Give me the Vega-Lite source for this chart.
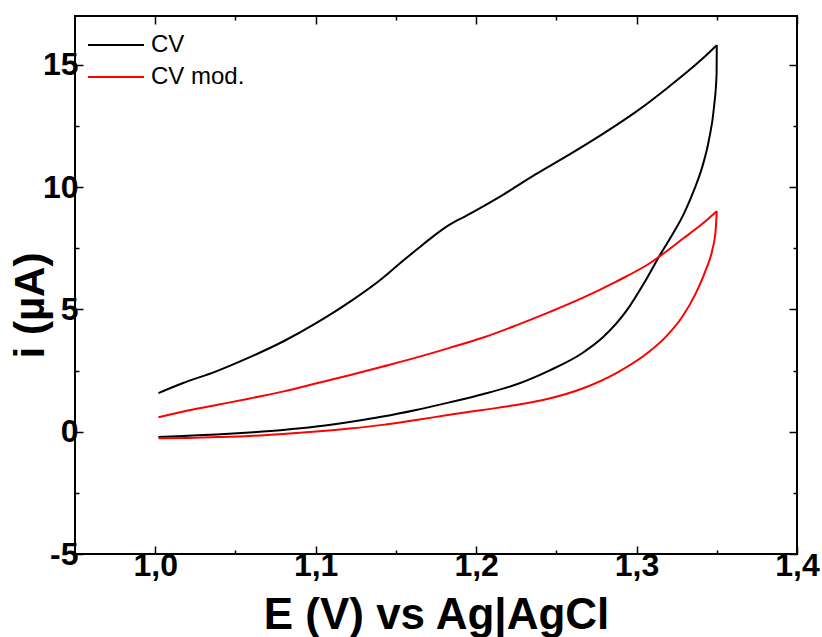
{
  "$schema": "https://vega.github.io/schema/vega-lite/v6.json",
  "width": 722,
  "height": 538,
  "autosize": "none",
  "padding": {"left": 75, "top": 16, "right": 25, "bottom": 83},
  "background": "white",
  "config": {"view": {"stroke": "black", "strokeWidth": 2}, "font": "Liberation Sans"},
  "data": {"values": [
    {"series": "CV", "b": "f", "k": 1, "E": 1.002, "i": 1.58},
    {"series": "CV", "b": "f", "k": 2, "E": 1.017, "i": 1.98},
    {"series": "CV", "b": "f", "k": 3, "E": 1.038, "i": 2.47},
    {"series": "CV", "b": "f", "k": 4, "E": 1.059, "i": 3.05},
    {"series": "CV", "b": "f", "k": 5, "E": 1.080, "i": 3.70},
    {"series": "CV", "b": "f", "k": 6, "E": 1.100, "i": 4.43},
    {"series": "CV", "b": "f", "k": 7, "E": 1.121, "i": 5.30},
    {"series": "CV", "b": "f", "k": 8, "E": 1.142, "i": 6.30},
    {"series": "CV", "b": "f", "k": 9, "E": 1.152, "i": 6.86},
    {"series": "CV", "b": "f", "k": 10, "E": 1.163, "i": 7.45},
    {"series": "CV", "b": "f", "k": 11, "E": 1.173, "i": 7.98},
    {"series": "CV", "b": "f", "k": 12, "E": 1.183, "i": 8.45},
    {"series": "CV", "b": "f", "k": 13, "E": 1.194, "i": 8.84},
    {"series": "CV", "b": "f", "k": 14, "E": 1.205, "i": 9.24},
    {"series": "CV", "b": "f", "k": 15, "E": 1.217, "i": 9.70},
    {"series": "CV", "b": "f", "k": 16, "E": 1.237, "i": 10.52},
    {"series": "CV", "b": "f", "k": 17, "E": 1.258, "i": 11.33},
    {"series": "CV", "b": "f", "k": 18, "E": 1.279, "i": 12.18},
    {"series": "CV", "b": "f", "k": 19, "E": 1.300, "i": 13.10},
    {"series": "CV", "b": "f", "k": 20, "E": 1.320, "i": 14.10},
    {"series": "CV", "b": "f", "k": 21, "E": 1.341, "i": 15.25},
    {"series": "CV", "b": "f", "k": 22, "E": 1.350, "i": 15.81},
    {"series": "CV", "b": "r", "k": 23, "E": 1.350, "i": 15.81},
    {"series": "CV", "b": "r", "k": 24, "E": 1.3499, "i": 14.66},
    {"series": "CV", "b": "r", "k": 25, "E": 1.3483, "i": 13.29},
    {"series": "CV", "b": "r", "k": 26, "E": 1.3451, "i": 11.93},
    {"series": "CV", "b": "r", "k": 27, "E": 1.3410, "i": 10.84},
    {"series": "CV", "b": "r", "k": 28, "E": 1.3358, "i": 9.88},
    {"series": "CV", "b": "r", "k": 29, "E": 1.3296, "i": 8.93},
    {"series": "CV", "b": "r", "k": 30, "E": 1.3215, "i": 7.97},
    {"series": "CV", "b": "r", "k": 31, "E": 1.3140, "i": 7.16},
    {"series": "CV", "b": "r", "k": 32, "E": 1.3046, "i": 6.07},
    {"series": "CV", "b": "r", "k": 33, "E": 1.2941, "i": 4.98},
    {"series": "CV", "b": "r", "k": 34, "E": 1.2792, "i": 3.87},
    {"series": "CV", "b": "r", "k": 35, "E": 1.2663, "i": 3.22},
    {"series": "CV", "b": "r", "k": 36, "E": 1.2456, "i": 2.50},
    {"series": "CV", "b": "r", "k": 37, "E": 1.2249, "i": 1.93},
    {"series": "CV", "b": "r", "k": 38, "E": 1.2041, "i": 1.53},
    {"series": "CV", "b": "r", "k": 39, "E": 1.1834, "i": 1.20},
    {"series": "CV", "b": "r", "k": 40, "E": 1.1626, "i": 0.89},
    {"series": "CV", "b": "r", "k": 41, "E": 1.1418, "i": 0.62},
    {"series": "CV", "b": "r", "k": 42, "E": 1.1211, "i": 0.40},
    {"series": "CV", "b": "r", "k": 43, "E": 1.1004, "i": 0.21},
    {"series": "CV", "b": "r", "k": 44, "E": 1.0796, "i": 0.07},
    {"series": "CV", "b": "r", "k": 45, "E": 1.0589, "i": -0.03},
    {"series": "CV", "b": "r", "k": 46, "E": 1.0382, "i": -0.11},
    {"series": "CV", "b": "r", "k": 47, "E": 1.0174, "i": -0.17},
    {"series": "CV", "b": "r", "k": 48, "E": 1.0020, "i": -0.22},
    {"series": "CV mod.", "b": "f", "k": 1, "E": 1.002, "i": 0.59},
    {"series": "CV mod.", "b": "f", "k": 2, "E": 1.017, "i": 0.82},
    {"series": "CV mod.", "b": "f", "k": 3, "E": 1.038, "i": 1.09},
    {"series": "CV mod.", "b": "f", "k": 4, "E": 1.059, "i": 1.36},
    {"series": "CV mod.", "b": "f", "k": 5, "E": 1.080, "i": 1.65},
    {"series": "CV mod.", "b": "f", "k": 6, "E": 1.100, "i": 1.97},
    {"series": "CV mod.", "b": "f", "k": 7, "E": 1.121, "i": 2.31},
    {"series": "CV mod.", "b": "f", "k": 8, "E": 1.142, "i": 2.67},
    {"series": "CV mod.", "b": "f", "k": 9, "E": 1.163, "i": 3.04},
    {"series": "CV mod.", "b": "f", "k": 10, "E": 1.183, "i": 3.42},
    {"series": "CV mod.", "b": "f", "k": 11, "E": 1.204, "i": 3.84},
    {"series": "CV mod.", "b": "f", "k": 12, "E": 1.225, "i": 4.35},
    {"series": "CV mod.", "b": "f", "k": 13, "E": 1.246, "i": 4.90},
    {"series": "CV mod.", "b": "f", "k": 14, "E": 1.266, "i": 5.46},
    {"series": "CV mod.", "b": "f", "k": 15, "E": 1.287, "i": 6.13},
    {"series": "CV mod.", "b": "f", "k": 16, "E": 1.308, "i": 6.88},
    {"series": "CV mod.", "b": "f", "k": 17, "E": 1.329, "i": 7.90},
    {"series": "CV mod.", "b": "f", "k": 18, "E": 1.340, "i": 8.45},
    {"series": "CV mod.", "b": "f", "k": 19, "E": 1.350, "i": 9.02},
    {"series": "CV mod.", "b": "r", "k": 20, "E": 1.350, "i": 9.02},
    {"series": "CV mod.", "b": "r", "k": 21, "E": 1.3493, "i": 8.25},
    {"series": "CV mod.", "b": "r", "k": 22, "E": 1.3472, "i": 7.43},
    {"series": "CV mod.", "b": "r", "k": 23, "E": 1.3431, "i": 6.61},
    {"series": "CV mod.", "b": "r", "k": 24, "E": 1.3369, "i": 5.66},
    {"series": "CV mod.", "b": "r", "k": 25, "E": 1.3285, "i": 4.70},
    {"series": "CV mod.", "b": "r", "k": 26, "E": 1.3182, "i": 3.88},
    {"series": "CV mod.", "b": "r", "k": 27, "E": 1.3078, "i": 3.27},
    {"series": "CV mod.", "b": "r", "k": 28, "E": 1.2871, "i": 2.39},
    {"series": "CV mod.", "b": "r", "k": 29, "E": 1.2663, "i": 1.77},
    {"series": "CV mod.", "b": "r", "k": 30, "E": 1.2456, "i": 1.36},
    {"series": "CV mod.", "b": "r", "k": 31, "E": 1.2249, "i": 1.09},
    {"series": "CV mod.", "b": "r", "k": 32, "E": 1.2041, "i": 0.89},
    {"series": "CV mod.", "b": "r", "k": 33, "E": 1.1834, "i": 0.69},
    {"series": "CV mod.", "b": "r", "k": 34, "E": 1.1626, "i": 0.48},
    {"series": "CV mod.", "b": "r", "k": 35, "E": 1.1418, "i": 0.28},
    {"series": "CV mod.", "b": "r", "k": 36, "E": 1.1211, "i": 0.13},
    {"series": "CV mod.", "b": "r", "k": 37, "E": 1.1004, "i": 0.01},
    {"series": "CV mod.", "b": "r", "k": 38, "E": 1.0796, "i": -0.09},
    {"series": "CV mod.", "b": "r", "k": 39, "E": 1.0589, "i": -0.17},
    {"series": "CV mod.", "b": "r", "k": 40, "E": 1.0382, "i": -0.22},
    {"series": "CV mod.", "b": "r", "k": 41, "E": 1.0174, "i": -0.26},
    {"series": "CV mod.", "b": "r", "k": 42, "E": 1.0020, "i": -0.27}
  ]},
  "layer": [
    {
      "mark": {"type": "line", "strokeWidth": 2, "interpolate": "monotone"},
      "encoding": {
        "x": {
          "field": "E", "type": "quantitative",
          "scale": {"domain": [0.95, 1.4], "nice": false, "zero": false},
          "axis": {
            "orient": "bottom",
            "values": [1.0, 1.05, 1.1, 1.15, 1.2, 1.25, 1.3, 1.35, 1.4],
            "labelExpr": "abs(datum.value*10-round(datum.value*10))>0.01 ? '' : replace(format(datum.value,'.1f'),'.',',')",
            "domain": false, "grid": false,
            "tickColor": "black", "tickWidth": 1.5,
            "tickSize": {"condition": {"test": "abs(datum.value*10-round(datum.value*10))>0.01", "value": -4}, "value": -8},
            "labelFont": "Liberation Sans", "labelFontWeight": "bold", "labelFontSize": 32, "labelColor": "black",
            "labelPadding": 4, "labelFlush": false, "labelOverlap": false,
            "title": "E (V) vs Ag|AgCl",
            "titleFont": "Liberation Sans", "titleFontSize": 44, "titleFontWeight": "bold", "titleColor": "black",
            "titleX": 361, "titleY": 74, "titleBaseline": "alphabetic", "titleAlign": "center"
          }
        },
        "y": {
          "field": "i", "type": "quantitative",
          "scale": {"domain": [-5, 17], "nice": false, "zero": false},
          "axis": {
            "orient": "left",
            "values": [-5, -2.5, 0, 2.5, 5, 7.5, 10, 12.5, 15],
            "labelExpr": "datum.value % 5 != 0 ? '' : '' + datum.value",
            "domain": false, "grid": false,
            "tickColor": "black", "tickWidth": 1.5,
            "tickSize": {"condition": {"test": "datum.value % 5 != 0", "value": -4}, "value": -8},
            "labelFont": "Liberation Sans", "labelFontWeight": "bold", "labelFontSize": 32, "labelColor": "black",
            "labelPadding": 5, "labelFlush": false, "labelOverlap": false,
            "title": "i (µA)",
            "titleFont": "Liberation Sans", "titleFontSize": 42, "titleFontWeight": "bold", "titleColor": "black",
            "titleX": -32, "titleY": 289, "titleBaseline": "alphabetic", "titleAlign": "center", "titleAngle": -90
          }
        },
        "color": {
          "field": "series", "type": "nominal",
          "scale": {"domain": ["CV", "CV mod."], "range": ["#000000", "#ff0000"]},
          "legend": {
            "orient": "none", "legendX": 26, "legendY": 14, "title": null,
            "symbolType": "M-2,0H2", "symbolSize": 784, "symbolStrokeWidth": 2, "symbolFillColor": "transparent",
            "labelFont": "Liberation Sans", "labelFontSize": 24, "labelColor": "black",
            "labelOffset": 20, "rowPadding": 5, "padding": 0
          }
        },
        "detail": {"field": "b"},
        "order": {"field": "k", "type": "quantitative"}
      }
    },
    {
      "mark": {"type": "line", "opacity": 0},
      "encoding": {
        "x": {
          "field": "E", "type": "quantitative",
          "axis": {
            "orient": "top",
            "values": [1.0, 1.05, 1.1, 1.15, 1.2, 1.25, 1.3, 1.35, 1.4],
            "labels": false, "domain": false, "grid": false, "title": null,
            "tickColor": "black", "tickWidth": 1.5,
            "tickSize": {"condition": {"test": "abs(datum.value*10-round(datum.value*10))>0.01", "value": -4}, "value": -8}
          }
        },
        "y": {
          "field": "i", "type": "quantitative",
          "axis": {
            "orient": "right",
            "values": [-5, -2.5, 0, 2.5, 5, 7.5, 10, 12.5, 15],
            "labels": false, "domain": false, "grid": false, "title": null,
            "tickColor": "black", "tickWidth": 1.5,
            "tickSize": {"condition": {"test": "datum.value % 5 != 0", "value": -4}, "value": -8}
          }
        },
        "detail": {"field": "series"},
        "order": {"field": "k", "type": "quantitative"}
      }
    }
  ],
  "resolve": {"axis": {"x": "independent", "y": "independent"}}
}
